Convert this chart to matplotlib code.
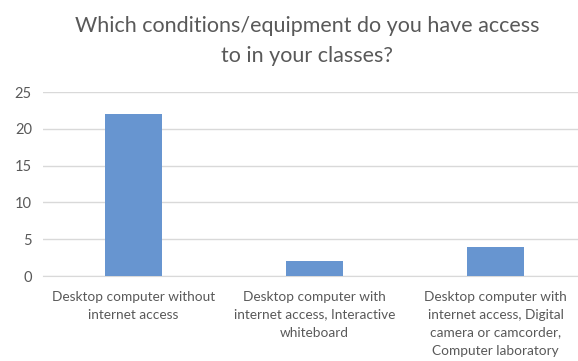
import matplotlib.pyplot as plt

categories = [
    "Desktop computer without\ninternet access",
    "Desktop computer with\ninternet access, Interactive\nwhiteboard",
    "Desktop computer with\ninternet access, Digital\ncamera or camcorder,\nComputer laboratory",
]
counts = [22, 2, 4]
yticks = [0, 5, 10, 15, 20, 25]

title = "Which conditions/equipment do you have access\nto in your classes?"

plt.rcParams['font.family'] = ['Lato', 'DejaVu Sans']

fig = plt.figure(figsize=(5.78, 3.61), dpi=100)
ax = fig.add_axes([43 / 578, 85 / 361, 535 / 578, 184 / 361])

x = range(len(categories))
ax.bar(x, counts, width=0.315, color='#6795d0', zorder=3)

ax.set_ylim(0, 25)
ax.set_xlim(-0.5, 2.456)
ax.set_yticks(yticks)
ax.grid(axis='y', color='#d9d9d9', linewidth=1.0, zorder=0)
ax.set_xticks(list(x))
ax.set_xticklabels(categories, fontsize=9.8, color='#595959', linespacing=1.6)
ax.tick_params(axis='y', labelsize=10.5, labelcolor='#595959', length=0, pad=8)
ax.tick_params(axis='x', length=0, pad=10.5)
for s in ['top', 'right', 'left']:
    ax.spines[s].set_visible(False)
ax.spines['bottom'].set_color('#d9d9d9')

fig.text(307 / 578, 1 - 41 / 361, title, ha='center', va='center',
         fontsize=15.5, color='#595959', linespacing=1.6)

fig.savefig("out.png", dpi=100)
